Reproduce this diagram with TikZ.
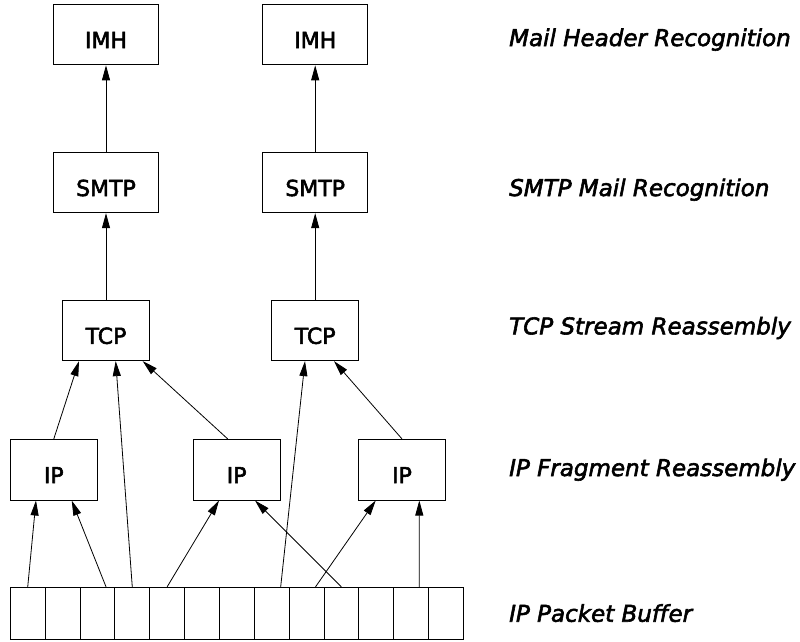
\documentclass[tikz,border=0pt]{standalone}
\usepackage{fontspec}
\setmainfont{DejaVu Sans}
\newfontfamily\medfont{DejaVu Sans}[BoldFont=DejaVu Sans, BoldFeatures={FakeBold=2.5}, BoldItalicFont=DejaVu Sans Oblique, BoldItalicFeatures={FakeBold=2.5}]
\usetikzlibrary{arrows.meta}
\begin{document}
\begin{tikzpicture}[x=1pt,y=-1pt,
  box/.style={draw,line width=0.9pt,minimum width=87.2pt,minimum height=60.7pt,inner sep=0pt,
    font=\medfont\bfseries\fontsize{22}{22}\selectfont,text height=27pt,text depth=0pt},
  cell/.style={draw,line width=0.9pt,minimum width=34.85pt,minimum height=52pt,inner sep=0pt},
  lay/.style={anchor=base west,inner sep=0pt,font=\medfont\bfseries\itshape\fontsize{23}{23}\selectfont},
  arr/.style={-{Triangle[length=15pt,width=8pt]},line width=0.8pt}]
\useasboundingbox (0,0) rectangle (800,641);

% boxes
\node[box,minimum width=104.6pt] (imh1) at (106,34.5) {IMH};
\node[box,minimum width=104.6pt] (imh2) at (315.2,34.5) {IMH};
\node[box,minimum width=104.6pt,minimum height=60.4pt] (smtp1) at (106,182.5) {SMTP};
\node[box,minimum width=104.6pt,minimum height=60.4pt] (smtp2) at (315.2,182.5) {SMTP};
\node[box] (tcp1) at (106,330.3) {TCP};
\node[box] (tcp2) at (315.2,330.3) {TCP};
\node[box] (ip1) at (53.8,469.7) {IP};
\node[box] (ip2) at (236.7,469.7) {IP};
\node[box] (ip3) at (402,469.7) {IP};

% buffer cells
\foreach \i in {1,...,13}
  \node[cell] (c\i) at ({10.3+34.85*(\i-0.5)},613.3) {};

% connectors
\draw[arr] (smtp1) -- (imh1);
\draw[arr] (smtp2) -- (imh2);
\draw[arr] (tcp1) -- (smtp1);
\draw[arr] (tcp2) -- (smtp2);
\draw[arr] (ip1.north) -- ([xshift=-27pt]tcp1.south);
\draw[arr] ([xshift=-9pt]ip2.north) -- ([xshift=36.7pt]tcp1.south);
\draw[arr] (ip3.north) -- ([xshift=18.8pt]tcp2.south);
\draw[arr] (c1.north) -- ([xshift=-17.8pt]ip1.south);
\draw[arr] ([xshift=8.6pt]c3.north) -- ([xshift=17.9pt]ip1.south);
\draw[arr] (c4.north) -- ([xshift=9.7pt]tcp1.south);
\draw[arr] (c5.north) -- ([xshift=-17.7pt]ip2.south);
\draw[arr] ([xshift=9pt]c8.north) -- ([xshift=-10.2pt]tcp2.south);
\draw[arr] (c10.north) -- ([xshift=18.3pt]ip2.south);
\draw[arr] ([xshift=9pt]c9.north) -- ([xshift=-26.3pt]ip3.south);
\draw[arr] ([xshift=8.2pt]c12.north) -- ([xshift=17.3pt]ip3.south);

% layer labels
\node[lay] (l1) at (509,46) {Mail Header Recognition};
\node[lay] (l2) at (509,196) {SMTP Mail Recognition};
\node[lay] (l3) at (509,334.3) {TCP Stream Reassembly};
\node[lay] (l4) at (509,476) {IP Fragment Reassembly};
\node[lay] (l5) at (509,621.7) {IP Packet Buffer};
\end{tikzpicture}
\end{document}
